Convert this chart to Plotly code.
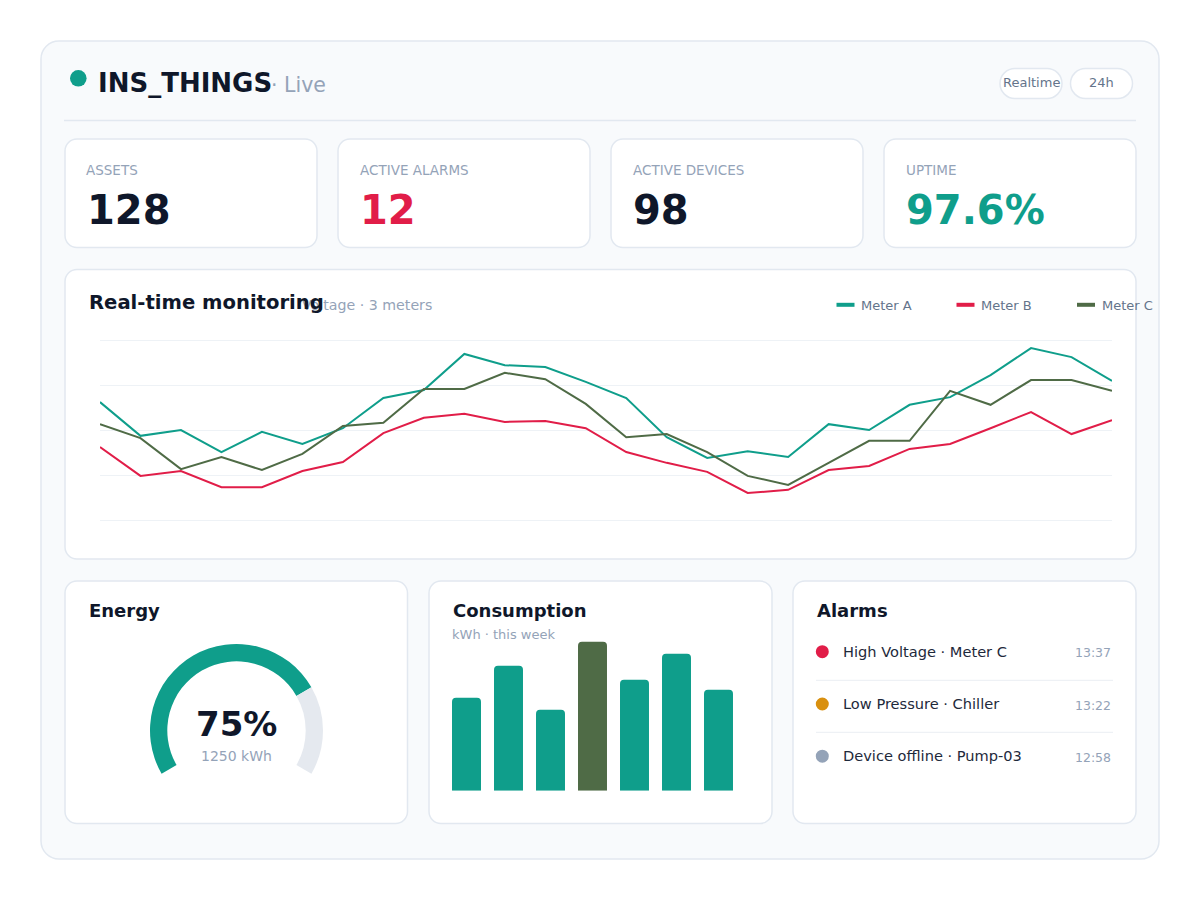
import plotly.graph_objects as go

W, H = 1200, 900

# ---------------- data ----------------
kpi_labels = ["ASSETS", "ACTIVE ALARMS", "ACTIVE DEVICES", "UPTIME"]
kpi_values = ["128", "12", "98", "97.6%"]

meter_names = ["Meter A", "Meter B", "Meter C"]
samples = list(range(26))
meter_a = [226.2, 218.7, 220.0, 215.1, 219.6, 216.9, 220.4, 227.1, 228.9, 236.9, 234.4, 234.0, 230.7,
           227.1, 218.4, 213.8, 215.3, 214.0, 221.3, 220.0, 225.6, 227.3, 232.2, 238.2, 236.2, 230.9]
meter_b = [216.2, 209.8, 210.9, 207.3, 207.3, 210.9, 212.9, 219.3, 222.7, 223.6, 221.8, 222.0, 220.4,
           215.1, 212.7, 210.7, 206.0, 206.7, 211.1, 212.0, 215.8, 216.9, 220.4, 224.0, 219.1, 222.2]
meter_c = [221.3, 218.2, 211.3, 214.0, 211.1, 214.7, 220.9, 221.6, 229.1, 229.1, 232.7, 231.3, 225.8,
           218.4, 219.1, 215.1, 209.8, 207.8, 212.7, 217.6, 217.6, 228.7, 225.6, 231.1, 231.1, 228.7]
voltage_ticks = [200, 210, 220, 230, 240]

energy_pct = 75
energy_kwh = 1250

days = ["Mon", "Tue", "Wed", "Thu", "Fri", "Sat", "Sun"]
consumption = [186, 250, 162, 298, 222, 274, 202]

alarm_texts = ["High Voltage · Meter C", "Low Pressure · Chiller", "Device offline · Pump-03"]
alarm_times = ["13:37", "13:22", "12:58"]
alarm_levels = ["critical", "warning", "offline"]

# ---------------- style ----------------
FONT = "DejaVu Sans"
TEAL = "#0f9e8b"
RED = "#e11d48"
OLIVE = "#4f6b46"
DARK = "#0f172a"
MUTED = "#94a3b8"
SLATE = "#64748b"
BORDER = "#e2e8f0"
series_colors = [TEAL, RED, OLIVE]
kpi_colors = [DARK, RED, DARK, TEAL]
level_colors = {"critical": "#e11d48", "warning": "#d9900f", "offline": "#94a3b8"}


def X(x):
    return x / W


def Y(y):
    return 1 - y / H


def rr_path(x0, y0, x1, y1, r):
    k = 0.5523 * r
    def p(x, y):
        return f"{X(x):.6f},{Y(y):.6f}"
    return (f"M {p(x0 + r, y0)} L {p(x1 - r, y0)} "
            f"C {p(x1 - r + k, y0)} {p(x1, y0 + r - k)} {p(x1, y0 + r)} "
            f"L {p(x1, y1 - r)} "
            f"C {p(x1, y1 - r + k)} {p(x1 - r + k, y1)} {p(x1 - r, y1)} "
            f"L {p(x0 + r, y1)} "
            f"C {p(x0 + r - k, y1)} {p(x0, y1 - r + k)} {p(x0, y1 - r)} "
            f"L {p(x0, y0 + r)} "
            f"C {p(x0, y0 + r - k)} {p(x0 + r - k, y0)} {p(x0 + r, y0)} Z")


shapes = []
annotations = []


def card(x0, y0, x1, y1, r=12, fill="#ffffff", line=BORDER, lw=1.5):
    shapes.append(dict(type="path", xref="paper", yref="paper", path=rr_path(x0, y0, x1, y1, r),
                       fillcolor=fill, line=dict(color=line, width=lw), layer="below"))


def hline(x0, x1, y, color, width=1.0):
    shapes.append(dict(type="line", xref="paper", yref="paper", x0=X(x0), x1=X(x1), y0=Y(y), y1=Y(y),
                       line=dict(color=color, width=width), layer="below"))


def dot(cx, cy, r, color):
    shapes.append(dict(type="circle", xref="paper", yref="paper", x0=X(cx - r), x1=X(cx + r),
                       y0=Y(cy + r), y1=Y(cy - r), fillcolor=color, line=dict(width=0), layer="below"))


def txt(x, y, s, size, color, weight=400, xanchor="left"):
    annotations.append(dict(x=X(x), y=Y(y), xref="paper", yref="paper", text=s, showarrow=False,
                            xanchor=xanchor, yanchor="middle", borderpad=0,
                            font=dict(family=FONT, size=size, color=color, weight=weight)))


# outer panel
card(41, 41, 1159, 859, r=18, fill="#f8fafc", line=BORDER, lw=1.5)

# header
dot(78.3, 78.3, 8.3, TEAL)
txt(97, 83, "INS_THINGS", 26, DARK, 700)
txt(270, 85.5, "· Live", 20.5, MUTED)
card(1000, 68.5, 1062, 98.5, r=15, fill="#ffffff")
card(1070.5, 68.5, 1132.5, 98.5, r=15, fill="#ffffff")
txt(1031, 83, "Realtime", 13, SLATE, xanchor="center")
txt(1101.5, 83, "24h", 13, SLATE, xanchor="center")
hline(64, 1136, 120.5, BORDER, 1.5)

# KPI cards
kpi_x = [65, 338, 611, 884]
for i, (lab, val) in enumerate(zip(kpi_labels, kpi_values)):
    x0 = kpi_x[i]
    card(x0, 139, x0 + 252, 247.5, r=12)
    txt(x0 + 20.5, 170, lab, 13.5, MUTED)
    txt(x0 + 20.5, 210, val, 40, kpi_colors[i], 700)

# monitoring card (subtitle first so the title is drawn over it, as in the reference)
card(65, 269.5, 1136, 559, r=12)
txt(300.5, 305, "Voltage · 3 meters", 14.2, MUTED)
txt(87.5, 302, "Real-time monitoring", 19.6, DARK, 700)
leg_x = [836.5, 956.5, 1077]
for i, name in enumerate(meter_names):
    hline(leg_x[i], leg_x[i] + 18, 304.8, series_colors[i], 4)
    txt(leg_x[i] + 23.5, 305, name, 13, SLATE)

# bottom cards
card(65, 581, 407.5, 823.5, r=12)
card(429, 581, 772, 823.5, r=12)
card(793, 581, 1136, 823.5, r=12)
txt(88, 610.7, "Energy", 18, DARK, 700)
txt(451.5, 610.7, "Consumption", 18, DARK, 700)
txt(451.5, 634.5, "kWh · this week", 13, MUTED)
txt(815.5, 610.7, "Alarms", 18, DARK, 700)

# gauge texts
txt(236, 723.7, f"{energy_pct}%", 34, DARK, 700, xanchor="center")
txt(236, 756, f"{energy_kwh} kWh", 14, MUTED, xanchor="center")

# alarms list
row_y = [651.7, 704, 756.2]
for i, (t, tm, lv) in enumerate(zip(alarm_texts, alarm_times, alarm_levels)):
    dot(822.3, row_y[i], 6.5, level_colors[lv])
    txt(841.5, row_y[i] - 0.5, t, 14.6, "#1e293b")
    txt(1112, row_y[i] + 1, tm, 12.5, MUTED, xanchor="right")
hline(816, 1113, 680.3, "#eef1f5", 1.2)
hline(816, 1113, 732.3, "#eef1f5", 1.2)

# ---------------- traces ----------------
fig = go.Figure()

for name, vals, col in zip(meter_names, [meter_a, meter_b, meter_c], series_colors):
    fig.add_trace(go.Scatter(x=samples, y=vals, mode="lines", name=name,
                             line=dict(color=col, width=2), xaxis="x", yaxis="y",
                             hoverinfo="skip", showlegend=False))

max_i = consumption.index(max(consumption))
bar_colors = [OLIVE if i == max_i else TEAL for i in range(len(consumption))]
fig.add_trace(go.Bar(x=days, y=consumption, marker=dict(color=bar_colors, cornerradius=4, line=dict(width=0)),
                     xaxis="x2", yaxis="y2", hoverinfo="skip", showlegend=False))

# gauge: 240 degree arc -> remaining 120 degrees transparent
arc_total = 100
fig.add_trace(go.Pie(values=[energy_pct, arc_total - energy_pct, arc_total / 2],
                     marker=dict(colors=[TEAL, "#e5e9ef", "rgba(0,0,0,0)"], line=dict(width=0)),
                     hole=0.8, rotation=-120, direction="clockwise", sort=False,
                     textinfo="none", hoverinfo="skip", showlegend=False,
                     domain=dict(x=[X(150), X(323)], y=[Y(817), Y(644)])))

fig.update_layout(
    width=W, height=H, margin=dict(l=0, r=0, t=0, b=0),
    paper_bgcolor="#ffffff", plot_bgcolor="rgba(0,0,0,0)",
    showlegend=False, hovermode=False, bargap=0.31,
    shapes=shapes, annotations=annotations,
    xaxis=dict(domain=[X(100), X(1112)], range=[0, 25], showgrid=False, zeroline=False,
               showticklabels=False, showline=False, ticks="", anchor="y"),
    yaxis=dict(domain=[Y(529), Y(331)], range=[198, 242], tickvals=voltage_ticks,
               showgrid=True, gridcolor="#eef2f6", gridwidth=1, zeroline=False,
               showticklabels=False, showline=False, ticks="", anchor="x"),
    xaxis2=dict(domain=[X(445.5), X(739.5)], range=[-0.5, 6.5], visible=False, anchor="y2"),
    yaxis2=dict(domain=[Y(790.7), Y(640.7)], range=[0, 300], visible=False, anchor="x2"),
)

fig.write_html("out.html")
